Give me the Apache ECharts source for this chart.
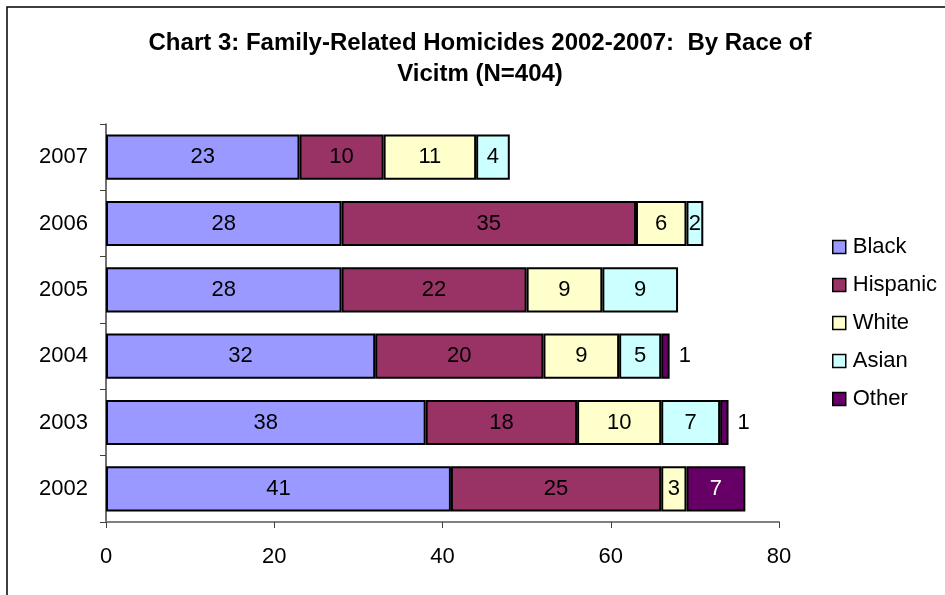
<!DOCTYPE html>
<html>
<head>
<meta charset="utf-8">
<script src="https://cdn.jsdelivr.net/npm/echarts@6/dist/echarts.min.js"></script>
<style>
  html, body { margin: 0; padding: 0; background: #fff; }
  #chart { width: 945px; height: 595px; }
</style>
</head>
<body>
<div id="chart"></div>
<script>
// bottom to top, like the axis
var years = ['2002', '2003', '2004', '2005', '2006', '2007'];
var black = [41, 38, 32, 28, 28, 23];
var hispanic = [25, 18, 20, 22, 35, 10];
var white = [3, 10, 9, 9, 6, 11];
var asian = [0, 7, 5, 9, 2, 4];
var other = [7, 1, 1, 0, 0, 0];

var font = 'Liberation Sans, Arial, sans-serif';

function clean(arr) {
  return arr.map(function (v) { return v === 0 ? '-' : v; });
}

function makeSeries(name, arr, color, labelColor) {
  return {
    name: name,
    type: 'bar',
    stack: 'all',
    barCategoryGap: '32%',
    data: clean(arr),
    itemStyle: { color: color, borderColor: '#000', borderWidth: 2 },
    label: {
      show: true,
      position: 'inside',
      color: labelColor,
      fontFamily: font,
      fontSize: 22
    }
  };
}

var otherSeries = makeSeries('Other', other, '#660066', '#fff');
otherSeries.data = other.map(function (v) {
  if (v === 0) return '-';
  if (v < 3) {
    return { value: v, label: { position: 'right', distance: 9, color: '#000' } };
  }
  return v;
});

var chart = echarts.init(document.getElementById('chart'));
chart.setOption({
  animation: false,
  graphic: [{
    type: 'rect',
    shape: { x: 7, y: 7, width: 960, height: 620 },
    style: { fill: 'none', stroke: '#000', lineWidth: 1.5 }
  }],
  title: {
    text: 'Chart 3: Family-Related Homicides 2002-2007:  By Race of\nVicitm (N=404)',
    left: 475,
    textAlign: 'center',
    top: 23,
    textStyle: { fontFamily: font, fontSize: 24, fontWeight: 'bold', color: '#000', lineHeight: 31 }
  },
  legend: {
    orient: 'vertical',
    left: 827,
    top: 231,
    itemWidth: 13,
    itemHeight: 13,
    itemGap: 16,
    icon: 'rect',
    itemStyle: { borderColor: '#000', borderWidth: 1.5 },
    textStyle: { fontFamily: font, fontSize: 22, color: '#000', padding: [0, 0, 0, 2] },
    data: ['Black', 'Hispanic', 'White', 'Asian', 'Other']
  },
  grid: { left: 106, right: 166, top: 124, bottom: 73 },
  xAxis: {
    type: 'value',
    min: 0,
    max: 80,
    interval: 20,
    axisLine: { show: true, lineStyle: { color: '#808080', width: 2 } },
    axisTick: { show: true, length: 6, lineStyle: { color: '#404040' } },
    splitLine: { show: false },
    axisLabel: { fontFamily: font, fontSize: 22, color: '#000', margin: 24 }
  },
  yAxis: {
    type: 'category',
    data: years,
    axisLine: { show: true, lineStyle: { color: '#404040', width: 1.5 } },
    axisTick: { show: true, length: 6, lineStyle: { color: '#404040' } },
    axisLabel: { fontFamily: font, fontSize: 22, color: '#000', margin: 18 }
  },
  series: [
    makeSeries('Black', black, '#9999FF', '#000'),
    makeSeries('Hispanic', hispanic, '#993366', '#000'),
    makeSeries('White', white, '#FFFFCC', '#000'),
    makeSeries('Asian', asian, '#CCFFFF', '#000'),
    otherSeries
  ]
});
</script>
</body>
</html>
